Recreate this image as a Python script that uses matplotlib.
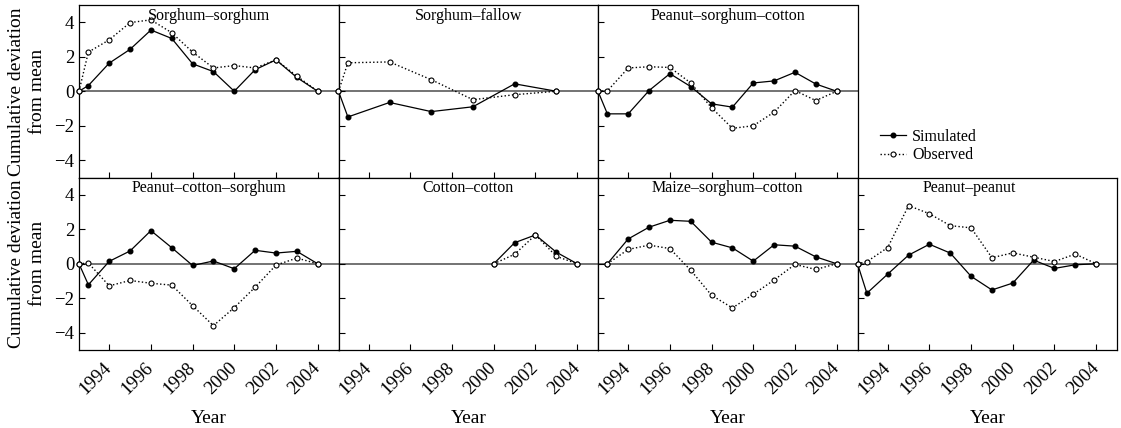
import matplotlib
matplotlib.use("Agg")
from matplotlib import pyplot as plt
from matplotlib import transforms
import numpy as np

plt.rcParams['font.family'] = ['Liberation Serif', 'DejaVu Serif']
plt.rcParams['axes.unicode_minus'] = True

START = 1992.55
yrs_full = [START] + list(range(1993, 2005))

# Sorghum-sorghum
ss_years = yrs_full
ss_sim = [0, 0.33, 1.63, 2.43, 3.55, 3.06, 1.59, 1.14, 0.0, 1.25, 1.82, 0.80, 0]
ss_obs = [0, 2.27, 2.98, 3.98, 4.14, 3.39, 2.27, 1.35, 1.49, 1.35, 1.82, 0.88, 0]

# Sorghum-fallow
sf_years = [START, 1993, 1995, 1997, 1999, 2001, 2003]
sf_sim = [0, -1.49, -0.65, -1.18, -0.90, 0.43, 0]
sf_obs = [0, 1.65, 1.70, 0.67, -0.49, -0.20, 0]

# Peanut-sorghum-cotton
psc_years = yrs_full
psc_sim = [0, -1.31, -1.31, 0.04, 1.02, 0.27, -0.73, -0.92, 0.48, 0.60, 1.10, 0.42, 0]
psc_obs = [0, 0.02, 1.35, 1.42, 1.38, 0.48, -0.96, -2.15, -2.00, -1.21, 0.04, -0.54, 0]

# Peanut-cotton-sorghum
pcs_years = yrs_full
pcs_sim = [0, -1.22, 0.14, 0.74, 1.92, 0.93, -0.10, 0.16, -0.29, 0.78, 0.62, 0.72, 0]
pcs_obs = [0, 0.04, -1.28, -0.97, -1.13, -1.24, -2.43, -3.59, -2.54, -1.36, -0.08, 0.33, 0]

# Cotton-cotton
cc_years = [2000, 2001, 2002, 2003, 2004]
cc_sim = [0, 1.22, 1.67, 0.67, 0]
cc_obs = [0, 0.55, 1.67, 0.43, 0]

# Maize-sorghum-cotton
msc_years = list(range(1993, 2005))
msc_sim = [0, 1.44, 2.12, 2.52, 2.46, 1.25, 0.92, 0.15, 1.10, 1.02, 0.40, 0]
msc_obs = [0, 0.83, 1.08, 0.88, -0.38, -1.83, -2.56, -1.77, -0.94, -0.04, -0.33, 0]

# Peanut-peanut
pp_years = yrs_full
pp_sim = [0, -1.71, -0.60, 0.50, 1.13, 0.62, -0.73, -1.52, -1.12, 0.21, -0.27, -0.06, 0]
pp_obs = [0, 0.12, 0.94, 3.37, 2.90, 2.21, 2.08, 0.35, 0.63, 0.38, 0.13, 0.56, 0]

panels = [
    ('Sorghum\u2013sorghum', ss_years, ss_sim, ss_obs, 0, 0),
    ('Sorghum\u2013fallow', sf_years, sf_sim, sf_obs, 0, 1),
    ('Peanut\u2013sorghum\u2013cotton', psc_years, psc_sim, psc_obs, 0, 2),
    ('Peanut\u2013cotton\u2013sorghum', pcs_years, pcs_sim, pcs_obs, 1, 0),
    ('Cotton\u2013cotton', cc_years, cc_sim, cc_obs, 1, 1),
    ('Maize\u2013sorghum\u2013cotton', msc_years, msc_sim, msc_obs, 1, 2),
    ('Peanut\u2013peanut', pp_years, pp_sim, pp_obs, 1, 3),
]

xticks = [1994, 1996, 1998, 2000, 2002, 2004]
yticks = [-4, -2, 0, 2, 4]

fig = plt.figure(figsize=(11.21, 4.28), dpi=100)
gs = fig.add_gridspec(2, 4, left=79/1121, right=1117/1121, top=1-5/428,
                      bottom=1-350/428, wspace=0, hspace=0)

shift = transforms.ScaledTranslation(4/100, 0, fig.dpi_scale_trans)

for title, yrs, sim, obs, r, c in panels:
    ax = fig.add_subplot(gs[r, c])
    ax.axhline(0, color='0.3', lw=1.1, zorder=1)
    ax.plot(yrs, sim, '-', color='black', lw=0.9, marker='o', ms=3.3,
            mfc='black', mec='black', label='Simulated', zorder=3, clip_on=False)
    ax.plot(yrs, obs, ':', color='black', lw=1.0, marker='o', ms=3.6,
            mfc='white', mec='black', mew=0.8, label='Observed', zorder=3, clip_on=False)
    ax.set_xlim(START, 2005)
    ax.set_ylim(-5, 5)
    ax.set_xticks(xticks)
    ax.set_yticks(yticks)
    ax.tick_params(direction='in', length=4, width=0.8, labelsize=13.5)
    for s in ax.spines.values():
        s.set_linewidth(0.9)
    tx = 0.43 if title == 'Peanut\u2013peanut' else 0.5
    ax.text(tx, 0.985, title, transform=ax.transAxes, ha='center', va='top', fontsize=11.5)
    if c != 0:
        ax.set_yticklabels([])
    else:
        ax.set_ylabel('Cumulative deviation\nfrom mean', fontsize=14, labelpad=6,
                      linespacing=1.3)
    if r == 0:
        ax.set_xticklabels([])
    else:
        ax.set_xticklabels([str(t) for t in xticks], rotation=45, ha='right',
                           va='center', rotation_mode='anchor')
        for lab in ax.get_xticklabels():
            lab.set_transform(lab.get_transform() + shift)
        ax.tick_params(axis='x', pad=11)
        ax.set_xlabel('Year', fontsize=14, labelpad=9)
    if r == 0 and c == 0:
        handles, labels = ax.get_legend_handles_labels()

fig.legend(handles, labels, loc='center left', bbox_to_anchor=(872/1121, 1-146/428),
           frameon=False, fontsize=11.5, handlelength=1.6, handletextpad=0.4,
           labelspacing=0.15, borderpad=0)

fig.savefig('out.png', dpi=100)
